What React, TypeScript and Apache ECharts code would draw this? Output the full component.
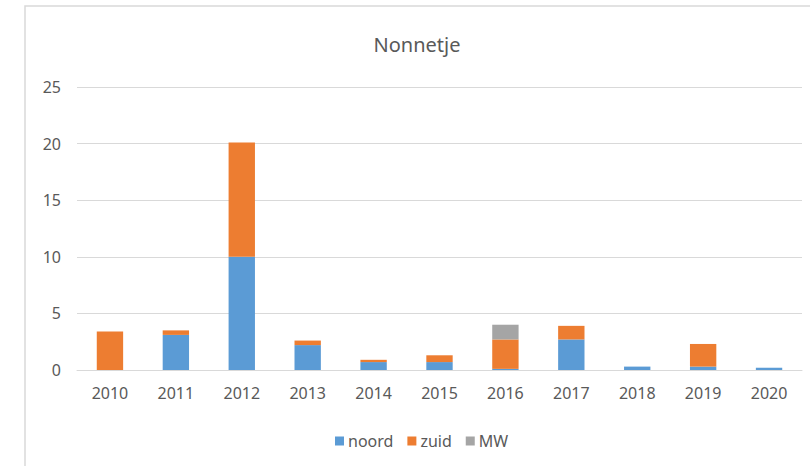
import React, { useEffect, useRef } from "react";
import * as echarts from "echarts";

const years = ["2010", "2011", "2012", "2013", "2014", "2015", "2016", "2017", "2018", "2019", "2020"];
const noord = [0, 3.1, 10.0, 2.2, 0.7, 0.7, 0.1, 2.7, 0.3, 0.3, 0.2];
const zuid = [3.4, 0.4, 10.1, 0.4, 0.2, 0.6, 2.6, 1.2, 0, 2.0, 0];
const mw = [0, 0, 0, 0, 0, 0, 1.3, 0, 0, 0, 0];

const FONT = "'Noto Sans', sans-serif";
const TEXT = "#595959";

export default function App() {
  const ref = useRef<HTMLDivElement>(null);
  useEffect(() => {
    if (!ref.current) return;
    const chart = echarts.init(ref.current, null, { renderer: "svg" });
    const mk = (name: string, data: number[], color: string) => ({
      name,
      type: "bar",
      stack: "total",
      data,
      barWidth: "40%",
      itemStyle: { color },
      emphasis: { disabled: true },
    });
    chart.setOption({
      animation: false,
      backgroundColor: "#ffffff",
      textStyle: { fontFamily: FONT },
      title: {
        text: "Nonnetje",
        left: 412,
        top: 29,
        textAlign: "center",
        textStyle: { fontFamily: FONT, fontSize: 20, fontWeight: "normal", color: TEXT },
      },
      legend: {
        data: ["noord", "zuid", "MW"],
        left: 330,
        top: 428,
        itemWidth: 9,
        itemHeight: 9,
        itemGap: 14,
        icon: "rect",
        textStyle: { fontFamily: FONT, fontSize: 16, color: TEXT, padding: [0, 0, 0, -1] },
      },
      grid: { left: 77, right: 8, top: 87, bottom: 96, containLabel: false },
      xAxis: {
        type: "category",
        data: years,
        axisLine: { lineStyle: { color: "#d9d9d9", width: 1 } },
        axisTick: { show: false },
        axisLabel: { color: TEXT, fontSize: 16, fontFamily: FONT, margin: 15 },
      },
      yAxis: {
        type: "value",
        min: 0,
        max: 25,
        interval: 5,
        axisLine: { show: false },
        axisTick: { show: false },
        splitLine: { lineStyle: { color: "#d9d9d9", width: 1 } },
        axisLabel: { color: TEXT, fontSize: 16, fontFamily: FONT, margin: 16 },
      },
      graphic: [
        {
          type: "rect",
          shape: { x: 25, y: 6, width: 900, height: 600 },
          style: { fill: "none", stroke: "#d9d9d9", lineWidth: 1.5 },
          silent: true,
        },
      ],
      series: [mk("noord", noord, "#5B9BD5"), mk("zuid", zuid, "#ED7D31"), mk("MW", mw, "#A5A5A5")],
    });
    return () => chart.dispose();
  }, []);
  return <div ref={ref} style={{ position: "absolute", left: 0, top: 0, width: 810, height: 466 }} />;
}
